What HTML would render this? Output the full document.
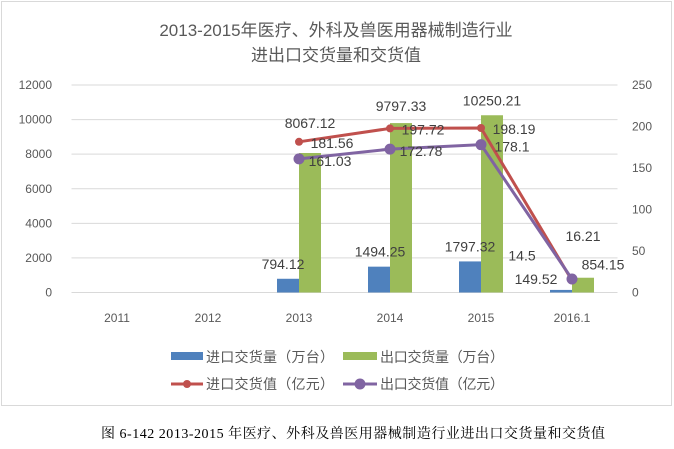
<!DOCTYPE html>
<html><head><meta charset="utf-8"><style>
body{margin:0;background:#fff;width:674px;height:444px;overflow:hidden}
svg text{font-family:"Liberation Sans","Noto Sans CJK SC",sans-serif}
</style></head><body>
<svg id="c" width="674" height="444" xmlns="http://www.w3.org/2000/svg">
<rect x="1.5" y="1.5" width="670" height="404" fill="#fff" stroke="#d9d9d9"/>
<text x="336" y="36" text-anchor="middle" font-size="17" fill="#595959">2013-2015年医疗、外科及兽医用器械制造行业</text>
<text x="336" y="61" text-anchor="middle" font-size="17" fill="#595959">进出口交货量和交货值</text>
<g id="grid"></g><g id="bars"></g><g id="lines"></g><g id="labels"></g>
<g font-size="14" fill="#595959">
<rect x="171" y="352" width="32" height="8" fill="#4f81bd"/>
<text x="206" y="362" textLength="128">进口交货量（万台）</text>
<rect x="343" y="352" width="34" height="8" fill="#9bbb59"/>
<text x="380" y="362" textLength="124">出口交货量（万台）</text>
<line x1="171" y1="384" x2="203" y2="384" stroke="#c0504d" stroke-width="3"/>
<circle cx="187" cy="384" r="4" fill="#c0504d"/>
<text x="206" y="389" textLength="128">进口交货值（亿元）</text>
<line x1="343" y1="384" x2="377" y2="384" stroke="#8064a2" stroke-width="3"/>
<circle cx="360" cy="384" r="5.5" fill="#8064a2"/>
<text x="380" y="389" textLength="124">出口交货值（亿元）</text>
</g>
<text x="101" y="438" font-size="14" textLength="504" fill="#000" style="font-family:'Liberation Serif','Noto Serif CJK SC',serif">图 6-142 2013-2015 年医疗、外科及兽医用器械制造行业进出口交货量和交货值</text>
</svg>
<script>
const categories=["2011","2012","2013","2014","2015","2016.1"];
const importQty=[null,null,794.12,1494.25,1797.32,149.52];
const exportQty=[null,null,8067.12,9797.33,10250.21,854.15];
const importVal=[null,null,181.56,197.72,198.19,14.5];
const exportVal=[null,null,161.03,172.78,178.1,16.21];
const leftTicks=[0,2000,4000,6000,8000,10000,12000];
const rightTicks=[0,50,100,150,200,250];
const NS="http://www.w3.org/2000/svg";
const x0=71.5,step=91,yB=292.5,yT=85;
const xc=i=>x0+step*(i+0.5);
const yL=v=>yB-(v/12000)*(yB-yT);
const yR=v=>yB-(v/250)*(yB-yT);
function mk(tag,attrs,parent,txt){const e=document.createElementNS(NS,tag);for(const k in attrs)e.setAttribute(k,attrs[k]);if(txt!=null)e.textContent=txt;document.getElementById(parent).appendChild(e);return e;}
leftTicks.forEach(t=>{
 const l=mk('line',{x1:x0,x2:x0+step*6,y1:yL(t),y2:yL(t),stroke:'#d9d9d9'},'grid');
 
 
 const tx=mk('text',{x:52,y:yL(t)+4,'text-anchor':'end','font-size':12,fill:'#595959'},'grid',t);
 
 
});
rightTicks.forEach(t=>{
 const tx=mk('text',{x:632,y:yR(t)+4,'font-size':12,fill:'#595959'},'grid',t);
 
 
});
categories.forEach((c,i)=>{
 const tx=mk('text',{x:xc(i),y:322,'text-anchor':'middle','font-size':12,fill:'#595959'},'grid',c);
 
 
 if(importQty[i]!=null){
  const b=mk('rect',{x:xc(i)-22,y:yL(importQty[i]),width:22,height:yB-yL(importQty[i]),fill:'#4f81bd'},'bars');
  
  
 }
 if(exportQty[i]!=null){
  const b=mk('rect',{x:xc(i),y:yL(exportQty[i]),width:22,height:yB-yL(exportQty[i]),fill:'#9bbb59'},'bars');
  
  
 }
});
function line(vals,color,r,name){
 const pts=[];vals.forEach((v,i)=>{if(v!=null)pts.push([xc(i),yR(v)])});
 const p=mk('polyline',{points:pts.map(p=>p.join(',')).join(' '),fill:'none',stroke:color,'stroke-width':3},'lines');
 
 
 pts.forEach(q=>{const c=mk('circle',{cx:q[0],cy:q[1],r:r,fill:color},'lines');
 
 });
}
line(importVal,'#c0504d',4,'import-value');
line(exportVal,'#8064a2',5.5,'export-value');
function lab(x,y,t){const e=mk('text',{x:x,y:y,'text-anchor':'middle','font-size':14,fill:'#404040'},'labels',t);
 
 }
lab(xc(2)-16,yL(importQty[2])-10,importQty[2]);
lab(xc(3)-10,yL(importQty[3])-10,importQty[3]);
lab(xc(4)-11,yL(importQty[4])-10,importQty[4]);
lab(xc(2)+11,yR(importVal[2])-14,exportQty[2]);
lab(xc(3)+11,yL(exportQty[3])-12,exportQty[3]);
lab(xc(4)+11,yL(exportQty[4])-10,exportQty[4]);
[2,3,4].forEach(i=>{
 lab(xc(i)+33,yR(importVal[i])+6,importVal[i]);
 lab(xc(i)+31,yR(exportVal[i])+7,exportVal[i]);
});
lab(xc(5)-36,yL(importQty[5])-6,importQty[5]);
lab(xc(5)+31,yL(exportQty[5])-8,exportQty[5]);
lab(xc(5)-50,yR(importVal[5])-20,importVal[5]);
lab(xc(5)+11,yR(exportVal[5])-38,exportVal[5]);
</script>
</body></html>
